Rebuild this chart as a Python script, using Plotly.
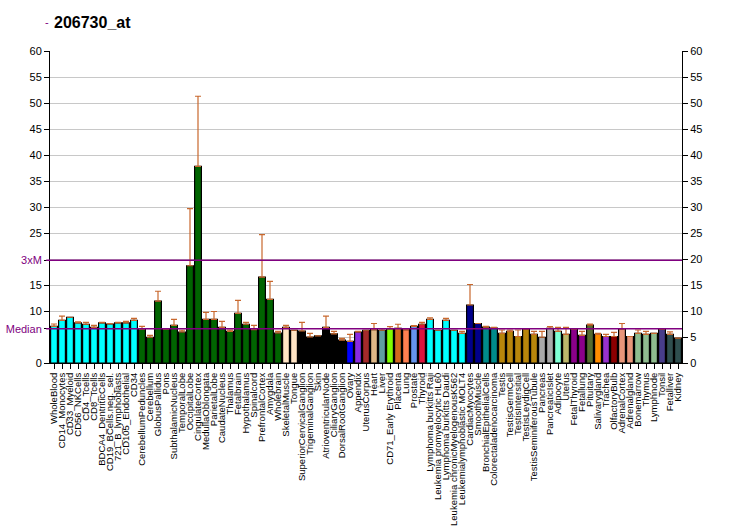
import plotly.graph_objects as go

labels = ["WholeBlood","CD14_Monocytes","CD33_Myeloid","CD56_NKCells","CD4_Tcells","CD8_Tcells",
          "BDCA4_DentriticCells","CD19_BCells.neg._sel.","721_B_lymphoblasts","CD105_Endothelial","CD34",
          "CerebellumPeduncles","Cerebellum","GlobusPallidus","Pons","SubthalamicNucleus","TemporalLobe",
          "OccipitalLobe","CingulateCortex","MedullaOblongata","ParietalLobe","CaudateNucleus","Thalamus",
          "Fetalbrain","Hypothalamus","Spinalcord","PrefrontalCortex","Amygdala","Wholebrain",
          "SkeletalMuscle","Tongue","SuperiorCervicalGanglion","TrigeminalGanglion","Skin",
          "AtrioventricularNode","CiliaryGanglion","DorsalRootGanglion","Ovary","Appendix","UterusCorpus",
          "Heart","Liver","CD71_Early Erythroid","Placenta","Lung","Prostate","Thyroid",
          "Lymphoma burkitts Raji","Leukemia promyelocytic HL60","Lymphoma burkitts Daudi",
          "Leukemia chronicMyelogenousK562","Leukemialymphoblastic MOLT4","CardiacMyocytes","SmoothMuscle",
          "BronchialEpithelialCells","Colorectaladenocarcinoma","Testis","TestisGermCell","TestisIntersitial",
          "TestisLeydigCell","TestisSeminiferousTubule","Pancreas","PancreaticIslet","Adipocyte","Uterus",
          "FetalThyroid","Fetallung","Pituitary","Salivarygland","Trachea","OlfactoryBulb","AdrenalCortex",
          "Adrenalgland","Bonemarrow","Thymus","Lymphnode","Tonsil","Fetalliver","Kidney"]

values = [7.05, 8.2, 8.8, 7.7, 7.45, 6.85, 7.7, 7.5, 7.7, 7.7, 8.2,
          6.5, 4.95, 11.9, 6.5, 7.25, 5.96, 18.7, 37.8, 8.4, 8.4, 6.86, 6.1,
          9.55, 7.45, 6.4, 16.5, 12.25, 5.77,
          6.86, 6.3, 6.15, 5.0, 5.2, 6.86, 5.6, 4.4, 4.15, 5.96, 6.3,
          6.4, 6.3, 6.6, 6.67, 6.4, 7.05, 7.45,
          8.4, 6.3, 8.2, 6.3, 5.7, 11.15, 7.6,
          6.9, 6.7, 5.7, 6.1, 5.1, 6.5, 5.5, 4.95, 6.67, 6.1, 5.5,
          6.5, 5.3, 7.3, 5.5, 5.1, 5.1, 6.5, 5.1, 5.7, 5.5, 5.7, 6.5, 5.5, 4.8]

err_top = [7.5, 9.0, None, 7.9, 7.8, 7.25, 7.8, 7.6, 7.8, 8.0, 8.6,
           7.05, 5.3, 13.8, None, 8.4, 6.3, 29.7, 51.3, 9.75, 9.9, 8.0, 6.35,
           12.05, 7.8, 7.25, 24.7, 15.7, 6.1,
           7.25, None, 7.8, 5.7, None, 9.0, 6.1, 4.75, 5.5, 6.1, None,
           7.6, 6.6, 7.0, 7.45, None, 7.2, 7.8,
           8.7, None, 8.6, None, 6.1, 15.1, None,
           7.05, 6.86, 6.35, 6.35, 6.35, 6.6, 6.1, 6.1, 7.0, 6.86, 6.86,
           None, 6.1, 7.5, 5.7, 5.5, 5.9, 7.6, None, 6.35, 6.1, None, None, 6.0, None]

colors = (["#00ffff"] * 11 + ["#006400"] * 18 + ["#ffe4c4"] * 2 + ["#000000"] * 6 +
          ["#0000ff", "#8a2be2", "#a52a2a", "#deb887", "#5f9ea0", "#7fff00", "#d2691e", "#ff7f50",
           "#6495ed", "#dc143c"] + ["#00ffff"] * 5 + ["#00008b"] * 2 + ["#008b8b"] * 2 +
          ["#b8860b"] * 5 + ["#a9a9a9"] * 2 + ["#7fffd4", "#bdb76b"] + ["#8b008b"] * 2 +
          ["#556b2f", "#ff8c00", "#9932cc", "#8b0000"] + ["#e9967a"] * 2 + ["#8fbc8f"] * 3 +
          ["#483d8b"] + ["#2f4f4f"] * 2)

median = 6.58
three_m = 19.75

err_plus = [(e - v) if e is not None else float("nan") for e, v in zip(err_top, values)]

fig = go.Figure()
fig.add_trace(go.Bar(
    x=labels, y=values,
    marker=dict(color=colors, line=dict(color="#000000", width=1.2)),
    error_y=dict(type="data", symmetric=False, array=err_plus,
                 arrayminus=[0] * len(values), color="#c8682e", thickness=1.2, width=3),
    showlegend=False, hoverinfo="x+y",
))
fig.add_trace(go.Scatter(x=[labels[0]], y=[0], yaxis="y2", mode="markers",
                         marker=dict(opacity=0), showlegend=False, hoverinfo="skip"))

left_vals = [0, median, 10, 15, three_m, 25, 30, 35, 40, 45, 50, 55, 60]
left_text = ["0", "<span style='color:#800080'>Median</span>", "10", "15",
             "<span style='color:#800080'>3xM</span>", "25", "30", "35", "40", "45", "50", "55", "60"]

fig.update_layout(
    width=732, height=530,
    margin=dict(l=50, r=50, t=51, b=167, autoexpand=False),
    paper_bgcolor="white", plot_bgcolor="white",
    font=dict(family="Liberation Sans, Arial, sans-serif", color="#000000", size=11),
    bargap=0.15,
    xaxis=dict(type="category", tickangle=-90, tickfont=dict(size=9.5), ticks="outside",
               tickmode="array", tickvals=labels, ticktext=labels,
               ticklen=5, tickcolor="#000000", showline=True, linecolor="#000000",
               linewidth=1, showgrid=False, automargin=False,
               range=[-0.5, len(labels) - 0.5]),
    yaxis=dict(range=[0, 60], tickvals=left_vals, ticktext=left_text, ticks="outside",
               ticklen=5, tickcolor="#000000", showline=True, linecolor="#000000",
               linewidth=1, showgrid=False, zeroline=False, automargin=False),
    yaxis2=dict(range=[0, 60], dtick=5, tick0=0, overlaying="y", side="right", ticks="outside",
                ticklen=5, tickcolor="#000000", showline=True, linecolor="#000000",
                linewidth=1, showgrid=True, gridcolor="#c8c8c8", gridwidth=1,
                zeroline=False, automargin=False),
    shapes=[
        dict(type="line", xref="paper", yref="y", x0=-0.006, x1=1, y0=median, y1=median,
             line=dict(color="#800080", width=1.5)),
        dict(type="line", xref="paper", yref="y", x0=-0.006, x1=1, y0=three_m, y1=three_m,
             line=dict(color="#800080", width=1.5)),
    ],
    annotations=[
        dict(text="<b>206730_at</b>", xref="paper", yref="paper", x=0.003, y=1.09, xanchor="left",
             yanchor="middle", showarrow=False, font=dict(size=16, color="#000000")),
        dict(text="-", xref="paper", yref="paper", x=0.002, y=1.093, xanchor="right",
             yanchor="middle", showarrow=False, font=dict(size=11, color="#800080")),
    ],
)

fig.write_html("out.html", config={"displayModeBar": False},
               post_script="document.body.style.margin='0';")
